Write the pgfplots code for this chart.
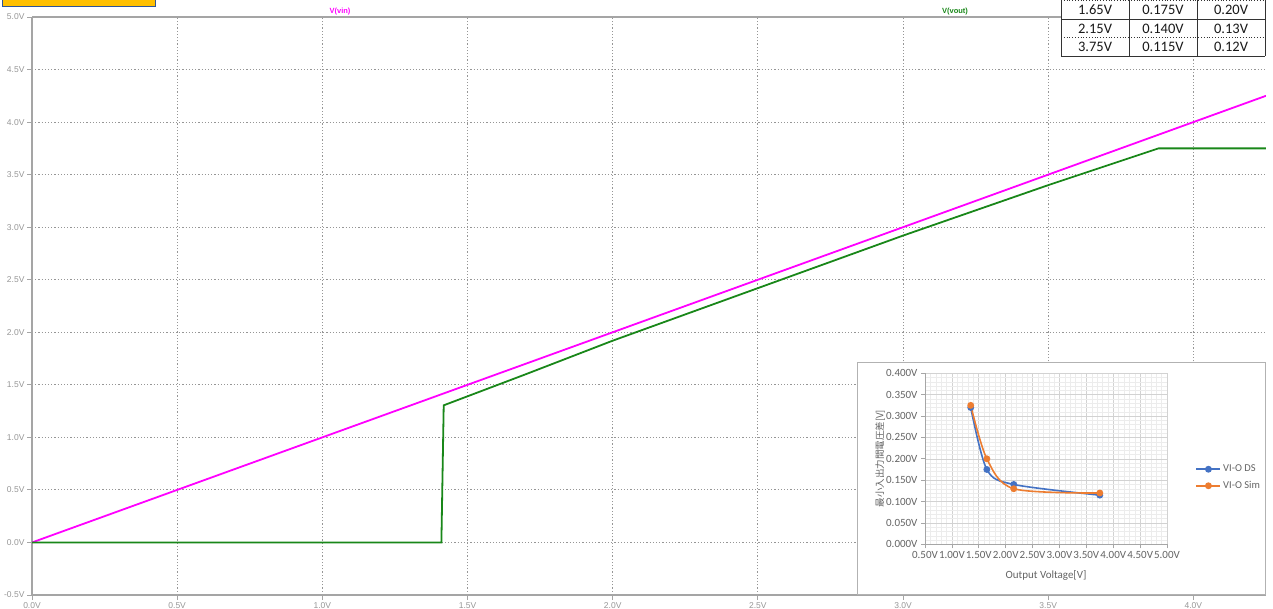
\documentclass[border=0pt]{standalone}
\usepackage{pgfplots}
\pgfplotsset{compat=1.18}
\usepackage{fontspec}
\setmainfont{Carlito}
\newfontfamily\ltfont{Liberation Sans}
\newfontfamily\jpfont{Noto Sans CJK JP}

\definecolor{vin}{RGB}{255,0,255}
\definecolor{vout}{RGB}{25,135,25}
\definecolor{axgray}{RGB}{165,165,165}
\definecolor{gridgray}{RGB}{150,150,150}
\definecolor{ticktxt}{RGB}{150,150,150}
\definecolor{dsblue}{RGB}{68,114,196}
\definecolor{simorange}{RGB}{237,125,49}
\definecolor{xlgrid}{RGB}{210,210,210}
\definecolor{xlminor}{RGB}{236,236,236}
\definecolor{xltext}{RGB}{100,100,100}
\definecolor{boxfill}{RGB}{255,192,0}
\definecolor{boxedge}{RGB}{47,85,151}

\begin{document}
\begin{tikzpicture}[x=1pt,y=1pt]
\path[use as bounding box] (0,0) rectangle (1273,608);

% transient waveform: V(vin) and V(vout) against the swept input
\begin{axis}[
  at={(32pt,13pt)}, anchor=south west, scale only axis,
  width=1234pt, height=578pt,
  xmin=0, xmax=4.25, ymin=-0.5, ymax=5,
  axis lines=left,
  axis line style={-, axgray, line width=1.8pt},
  xtick={0,0.5,1,1.5,2,2.5,3,3.5,4},
  ytick={-0.5,0,0.5,1,1.5,2,2.5,3,3.5,4,4.5,5},
  grid=major,
  major grid style={gridgray, dash pattern=on 1.2pt off 2pt, line width=1pt},
  tick style={axgray, line width=0.9pt},
  tick align=outside, major tick length=5pt,
  ticklabel style={font=\ltfont\fontsize{8.5}{9}\selectfont, text=ticktxt},
  /pgf/number format/assume math mode=true,
  xticklabel={\pgfmathprintnumber[fixed,fixed zerofill,precision=1]{\tick}V},
  yticklabel={\pgfmathprintnumber[fixed,fixed zerofill,precision=1]{\tick}V},
  xticklabel style={yshift=1pt},
  yticklabel style={xshift=1pt},
]
\addplot[vin, line width=1.8pt] coordinates {(0,0) (4.25,4.25)};
\addplot[vout, line width=1.8pt] coordinates {
  (0,0) (1.41,0) (1.418,1.305) (1.7,1.60) (2.0,1.92) (2.5,2.42)
  (3.0,2.92) (3.5,3.40) (3.88,3.75) (4.25,3.75)};
\draw[axgray, line width=1.8pt] (rel axis cs:0,1) -- (rel axis cs:1.01,1);
\end{axis}

\node[text=vin, font=\ltfont\bfseries\fontsize{7.5}{8}\selectfont] at (340,596) {V(vin)};
\node[text=vout, font=\ltfont\bfseries\fontsize{7.5}{8}\selectfont] at (955,596) {V(vout)};

% header box
\draw[fill=boxfill, draw=boxedge, line width=1pt] (2,601.5) rectangle (155,612);

% dropout table
\fill[white] (1061,552) rectangle (1265,608);
\foreach \xx in {1061,1129,1197,1265} \draw[black!80, line width=0.9pt] (\xx,552) -- (\xx,608);
\draw[black!80, line width=0.9pt] (1061,552) -- (1265,552);
\draw[black!80, line width=0.9pt] (1061,589) -- (1265,589);
\draw[black!80, dotted, line width=0.8pt] (1061,570.5) -- (1265,570.5);
\draw[black!80, dotted, line width=0.8pt] (1061,607.5) -- (1265,607.5);
\begin{scope}[every node/.style={font=\fontsize{14.5}{15}\selectfont, text=black!90}]
\node at (1095,598) {1.65V}; \node at (1163,598) {0.175V}; \node at (1231,598) {0.20V};
\node at (1095,579.5) {2.15V}; \node at (1163,579.5) {0.140V}; \node at (1231,579.5) {0.13V};
\node at (1095,561) {3.75V}; \node at (1163,561) {0.115V}; \node at (1231,561) {0.12V};
\end{scope}

% inset: minimum input-output voltage difference
\fill[white] (857,14) rectangle (1265,246);
\draw[black!30, line width=0.8pt] (857,14) rectangle (1265,246);
\begin{axis}[
  at={(925pt,63.7pt)}, anchor=south west, scale only axis,
  width=242pt, height=171pt,
  xmin=0.5, xmax=5, ymin=0, ymax=0.4,
  xtick={0.5,1,1.5,2,2.5,3,3.5,4,4.5,5},
  ytick={0,0.05,0.1,0.15,0.2,0.25,0.3,0.35,0.4},
  minor x tick num=4, minor y tick num=4,
  grid=both,
  major grid style={xlgrid, line width=0.6pt},
  minor grid style={xlminor, line width=0.4pt},
  axis lines=left,
  axis line style={-, black!35, line width=0.7pt},
  tick style={black!35, line width=0.7pt},
  tick align=outside, major tick length=4pt, minor tick length=0pt,
  ticklabel style={font=\fontsize{11}{12}\selectfont, text=xltext},
  /pgf/number format/assume math mode=true,
  xticklabel={\pgfmathprintnumber[fixed,fixed zerofill,precision=2]{\tick}V},
  yticklabel={\pgfmathprintnumber[fixed,fixed zerofill,precision=3]{\tick}V},
  xlabel={Output Voltage[V]},
  ylabel={\jpfont 最小入出力間電圧差[V]},
  xlabel style={at={(rel axis cs:0.5,-0.18)}, anchor=center, font=\fontsize{11}{12}\selectfont, text=xltext},
  ylabel style={at={(rel axis cs:-0.185,0.5)}, anchor=center, font=\fontsize{9.5}{10}\selectfont, text=xltext},
  legend style={at={(1.105,0.39)}, anchor=west, draw=none, fill=none,
    font=\fontsize{10.5}{11}\selectfont, text=xltext, row sep=4pt},
  legend cell align=left,
  legend image code/.code={\draw[#1] (0pt,0pt) -- (24pt,0pt); \draw[#1, mark repeat=2, mark phase=2] plot coordinates {(0pt,0pt) (12pt,0pt) (24pt,0pt)};},
]
\addplot[dsblue, line width=1.6pt, smooth, mark=*, mark size=2.6pt]
  coordinates {(1.35,0.32) (1.65,0.175) (2.15,0.14) (3.75,0.115)};
\addlegendentry{VI-O DS}
\addplot[simorange, line width=1.6pt, smooth, mark=*, mark size=2.6pt]
  coordinates {(1.35,0.325) (1.65,0.20) (2.15,0.13) (3.75,0.12)};
\addlegendentry{VI-O Sim}
\end{axis}
\end{tikzpicture}
\end{document}
